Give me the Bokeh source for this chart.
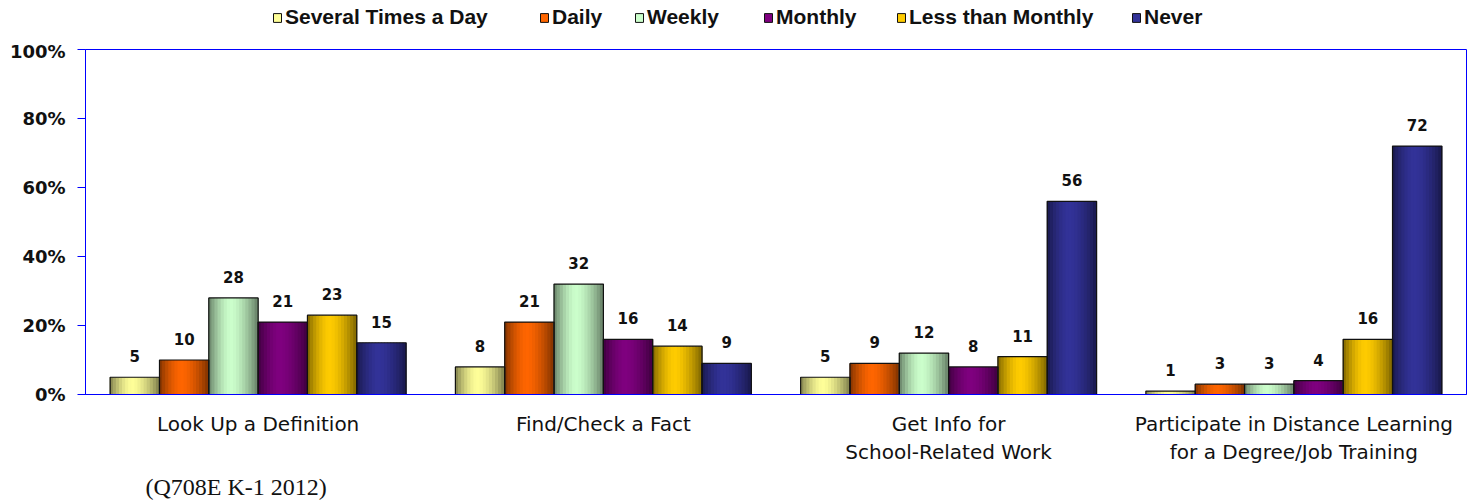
import numpy as np
from bokeh.plotting import figure
from bokeh.layouts import column
from bokeh.models import ColumnDataSource, Range1d, FixedTicker, Legend, LegendItem, Label
from bokeh.embed import file_html
from bokeh.resources import INLINE
from bokeh.core.properties import value

# ---------------- data ----------------
categories = [
    "Look Up a Definition",
    "Find/Check a Fact",
    "Get Info for\nSchool-Related Work",
    "Participate in Distance Learning\nfor a Degree/Job Training",
]
series_names = ["Several Times a Day", "Daily", "Weekly", "Monthly", "Less than Monthly", "Never"]
several_times_a_day = [5, 8, 5, 1]
daily = [10, 21, 9, 3]
weekly = [28, 32, 12, 3]
monthly = [21, 16, 8, 4]
less_than_monthly = [23, 14, 11, 16]
never = [15, 9, 56, 72]
y_ticks = [0, 20, 40, 60, 80, 100]
y_tick_labels = ["0%", "20%", "40%", "60%", "80%", "100%"]
footnote = "(Q708E K-1 2012)"

series_values = [several_times_a_day, daily, weekly, monthly, less_than_monthly, never]
base_colors = ["#FFFF99", "#FF6600", "#CCFFCC", "#800080", "#FFCC00", "#333399"]

# ---------------- styling helpers ----------------
def shade(hex_color, f):
    r = int(hex_color[1:3], 16); g = int(hex_color[3:5], 16); b = int(hex_color[5:7], 16)
    return "#%02x%02x%02x" % (int(r * f), int(g * f), int(b * f))

def grad_factor(t, peak=0.45):
    d = (t - peak) / (peak if t < peak else 1 - peak)
    return 1.0 - 0.5 * abs(d) ** 1.6

W = 1472
n_strips = 16
n_series = len(series_names)
bw = 1.0 / (n_series + 1)

def bar_x(j, n):
    return [i + 0.5 + (j - (n_series - 1) / 2) * bw for i in range(n)]

# ---------------- legend strip ----------------
# (frames are aligned with the main chart by the column layout; the series bars
#  drawn here lie outside the visible y range and only feed the legend glyphs)
leg_fig = figure(width=W, height=40, x_range=Range1d(0, len(categories)),
                 y_range=Range1d(1000, 1001),
                 x_axis_type=None, y_axis_type=None, output_backend="svg",
                 toolbar_location=None, min_border=0)
leg_fig.outline_line_color = None
leg_fig.xgrid.grid_line_color = None
leg_fig.ygrid.grid_line_color = None
legend_x = [187, 454, 549, 678, 811, 1046]
for j, name in enumerate(series_names):
    proxy = leg_fig.vbar(x=bar_x(j, len(series_values[j])), top=series_values[j], width=bw,
                         fill_color=base_colors[j], line_color="#111111", line_width=1)
    leg = Legend(items=[LegendItem(label=name, renderers=[proxy])],
                 location=(legend_x[j], 11), orientation="horizontal",
                 padding=0, margin=0, spacing=0, glyph_width=10, glyph_height=11,
                 label_standoff=3, border_line_color=None, background_fill_alpha=0,
                 label_text_font="Liberation Sans", label_text_font_style="bold",
                 label_text_font_size="21px", label_text_color="#111111")
    leg_fig.add_layout(leg, "center")

# ---------------- main chart ----------------
p = figure(width=W, height=430, x_range=Range1d(0, len(categories)), y_range=Range1d(0, 100),
           output_backend="svg", toolbar_location=None,
           min_border_left=85, min_border_right=6, min_border_top=9, min_border_bottom=76)
p.background_fill_color = "white"
p.border_fill_color = "white"
p.outline_line_color = "#0000FF"
p.outline_line_width = 1
p.xgrid.grid_line_color = None
p.ygrid.grid_line_color = None

# gradient bars as thin strips
sx, stop, scol = [], [], []
for j, vals in enumerate(series_values):
    for i, v in enumerate(vals):
        left = i + 0.5 + (j - (n_series - 1) / 2) * bw - bw / 2
        for k in range(n_strips):
            t = (k + 0.5) / n_strips
            sx.append(left + t * bw)
            stop.append(v)
            scol.append(shade(base_colors[j], grad_factor(t)))
strip_src = ColumnDataSource(dict(x=sx, top=stop, color=scol))
p.vbar(x="x", top="top", bottom=0, width=bw / n_strips * 1.3, fill_color="color",
       line_color=None, source=strip_src)

# bar outlines + value labels
for j, vals in enumerate(series_values):
    src = ColumnDataSource(dict(x=bar_x(j, len(vals)), top=vals, label=[str(v) for v in vals]))
    p.vbar(x="x", top="top", bottom=0, width=bw, fill_color=None, line_color="#111111",
           line_width=1.2, source=src)
    p.text(x="x", y="top", text="label", source=src, text_align="center",
           text_baseline="alphabetic", y_offset=-21,
           text_font=value("DejaVu Sans"), text_font_style="bold", text_font_size="15px",
           text_color="#111111")

# axes
p.yaxis.ticker = FixedTicker(ticks=y_ticks)
p.yaxis.major_label_overrides = {t: l for t, l in zip(y_ticks, y_tick_labels)}
p.yaxis.axis_line_color = "#0000FF"
p.yaxis.major_tick_line_color = "#0000FF"
p.yaxis.major_tick_out = 8
p.yaxis.major_tick_in = 0
p.yaxis.minor_tick_line_color = None
p.yaxis.major_label_standoff = 12
p.yaxis.major_label_text_font = "DejaVu Sans"
p.yaxis.major_label_text_font_style = "bold"
p.yaxis.major_label_text_font_size = "18px"
p.yaxis.major_label_text_color = "#111111"

x_ticks = [i + 0.5 for i in range(len(categories))]
p.xaxis.ticker = FixedTicker(ticks=x_ticks)
p.xaxis.major_label_overrides = {t: c for t, c in zip(x_ticks, categories)}
p.xaxis.axis_line_color = "#0000FF"
p.xaxis.major_tick_line_color = None
p.xaxis.minor_tick_line_color = None
p.xaxis.major_label_standoff = 11
p.xaxis.major_label_text_font = "DejaVu Sans"
p.xaxis.major_label_text_font_size = "20px"
p.xaxis.major_label_text_color = "#111111"

# ---------------- footnote strip ----------------
note_fig = figure(width=W, height=30, x_range=Range1d(0, 1), y_range=Range1d(0, 1),
                  x_axis_type=None, y_axis_type=None, output_backend="svg",
                  toolbar_location=None, min_border=0)
note_fig.outline_line_color = None
note_fig.xgrid.grid_line_color = None
note_fig.ygrid.grid_line_color = None
note_fig.add_layout(Label(x=60, y=14, x_units="screen", y_units="screen", text=footnote,
                          text_font="Liberation Serif", text_font_size="24px",
                          text_baseline="alphabetic", text_color="#111111"))

layout = column(leg_fig, p, note_fig, spacing=0)
open("out.html", "w").write(file_html(layout, INLINE))
